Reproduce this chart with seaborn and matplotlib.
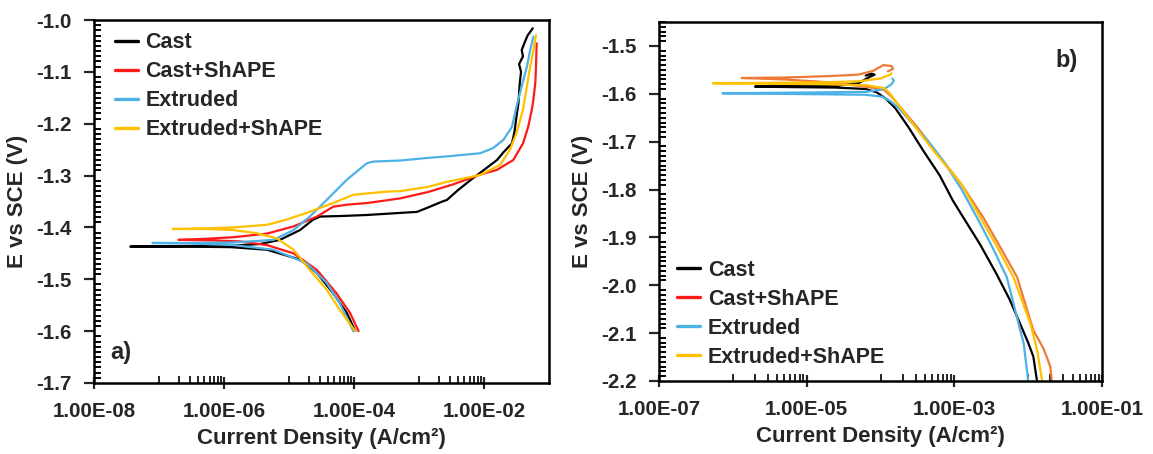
import numpy as np
import pandas as pd
import matplotlib
matplotlib.use("Agg")
import matplotlib.pyplot as plt
import seaborn as sns
from matplotlib.ticker import FixedLocator, FuncFormatter, MultipleLocator
from matplotlib.lines import Line2D

# ---------------- data (log10 of current density, A/cm2 ; potential V vs SCE) -------------
series_names = ["Cast", "Cast+ShAPE", "Extruded", "Extruded+ShAPE"]

# panel a)
a_cast_logi = [-3.98, -4.11, -4.32, -4.57, -4.83, -5.34, -5.90, -6.60, -7.44,
               -6.60, -5.86, -5.45, -5.14, -4.83, -4.63, -4.52, -4.20, -3.80, -3.29, -3.03,
               -2.87, -2.64, -2.57, -2.40, -2.22, -2.01, -1.80, -1.70, -1.57, -1.53, -1.50,
               -1.47, -1.45, -1.43, -1.46, -1.40, -1.42, -1.38, -1.33, -1.25]
a_cast_e = [-1.600, -1.565, -1.527, -1.488, -1.462, -1.443, -1.438, -1.437, -1.437,
            -1.436, -1.435, -1.432, -1.424, -1.405, -1.385, -1.379, -1.378, -1.376, -1.372, -1.370,
            -1.362, -1.350, -1.347, -1.328, -1.310, -1.290, -1.270, -1.255, -1.238, -1.215, -1.186,
            -1.160, -1.122, -1.100, -1.085, -1.070, -1.058, -1.045, -1.030, -1.016]

a_castsh_logi = [-3.93, -4.06, -4.27, -4.57, -4.93, -5.34, -5.75, -6.20, -6.70,
                 -6.30, -5.86, -5.34, -4.93, -4.57, -4.32, -4.10, -3.80, -3.29, -2.87, -2.50,
                 -2.32, -2.06, -1.80, -1.55, -1.40, -1.32, -1.26, -1.24, -1.21, -1.20, -1.19]
a_castsh_e = [-1.600, -1.565, -1.527, -1.482, -1.450, -1.434, -1.427, -1.425, -1.424,
              -1.422, -1.419, -1.412, -1.398, -1.379, -1.360, -1.356, -1.353, -1.344, -1.332, -1.318,
              -1.310, -1.298, -1.289, -1.270, -1.238, -1.206, -1.170, -1.154, -1.120, -1.090, -1.045]

a_ext_logi = [-4.01, -4.22, -4.42, -4.73, -5.24, -5.86, -6.50, -7.10,
              -6.50, -5.86, -5.24, -4.93, -4.68, -4.42, -4.11, -3.80, -3.70, -3.29, -2.87,
              -2.57, -2.06, -1.86, -1.70, -1.57, -1.50, -1.42, -1.34, -1.29, -1.24]
a_ext_e = [-1.600, -1.546, -1.507, -1.469, -1.443, -1.434, -1.431, -1.430,
           -1.430, -1.429, -1.424, -1.405, -1.379, -1.347, -1.308, -1.276, -1.273, -1.271, -1.266,
           -1.263, -1.257, -1.247, -1.231, -1.206, -1.167, -1.128, -1.090, -1.058, -1.032]

a_extsh_logi = [-3.98, -4.22, -4.42, -4.68, -4.93, -5.19, -5.50, -5.86, -6.30, -6.79,
                -6.30, -5.86, -5.34, -5.04, -4.73, -4.32, -4.01, -3.50, -3.29, -2.87,
                -2.57, -2.06, -1.75, -1.60, -1.50, -1.40, -1.34, -1.29, -1.24, -1.20]
a_extsh_e = [-1.600, -1.559, -1.520, -1.482, -1.443, -1.421, -1.411, -1.405, -1.403, -1.403,
             -1.402, -1.400, -1.395, -1.385, -1.372, -1.353, -1.337, -1.331, -1.330, -1.322,
             -1.312, -1.299, -1.279, -1.250, -1.218, -1.173, -1.128, -1.090, -1.058, -1.029]

# panel b)
b_cast_logi = [-1.88, -1.93, -2.00, -2.11, -2.25, -2.43, -2.65, -2.88, -3.02, -3.20, -3.42,
               -3.62, -3.80, -3.93, -4.05, -4.20, -4.60, -5.20, -5.70,
               -5.20, -4.60, -4.30, -4.15, -4.08, -4.12, -4.20]
b_cast_e = [-2.200, -2.149, -2.120, -2.080, -2.030, -1.976, -1.915, -1.858, -1.823, -1.770, -1.719,
            -1.670, -1.630, -1.610, -1.597, -1.590, -1.587, -1.586, -1.585,
            -1.584, -1.583, -1.578, -1.565, -1.560, -1.558, -1.562]

b_castsh_logi = [-1.68, -1.70, -1.75, -1.80, -1.93, -2.15, -2.38, -2.61, -2.90, -3.26, -3.50,
                 -3.72, -3.85, -3.95, -4.20, -4.80, -5.30, -5.88,
                 -5.30, -4.70, -4.30, -4.10, -3.96, -3.85, -3.83, -3.90]
b_castsh_e = [-2.200, -2.170, -2.149, -2.130, -2.094, -1.983, -1.920, -1.858, -1.790, -1.719, -1.670,
              -1.630, -1.606, -1.592, -1.585, -1.575, -1.570, -1.567,
              -1.566, -1.563, -1.560, -1.552, -1.540, -1.542, -1.548, -1.553]

b_ext_logi = [-2.00, -2.06, -2.15, -2.29, -2.47, -2.65, -2.90, -3.15, -3.35, -3.55, -3.75,
              -3.87, -3.98, -4.20, -4.80, -5.50, -6.14,
              -5.50, -4.80, -4.20, -3.95, -3.85, -3.82, -3.84]
b_ext_e = [-2.200, -2.122, -2.068, -1.983, -1.925, -1.871, -1.800, -1.740, -1.700, -1.665, -1.630,
           -1.615, -1.606, -1.602, -1.601, -1.600, -1.599,
           -1.598, -1.597, -1.596, -1.590, -1.580, -1.572, -1.568]

b_extsh_logi = [-1.81, -1.88, -1.97, -2.20, -2.42, -2.65, -2.90, -3.28, -3.55, -3.75, -3.87,
                -3.95, -4.20, -4.80, -5.50, -6.27,
                -5.50, -4.80, -4.30, -4.00, -3.87, -3.85]
b_extsh_e = [-2.200, -2.135, -2.080, -1.983, -1.920, -1.858, -1.790, -1.719, -1.665, -1.625, -1.600,
             -1.588, -1.582, -1.580, -1.579, -1.578,
             -1.577, -1.576, -1.574, -1.568, -1.560, -1.557]

x_tick_labels_a = ["1.00E-08", "1.00E-06", "1.00E-04", "1.00E-02"]
x_tick_labels_b = ["1.00E-07", "1.00E-05", "1.00E-03", "1.00E-01"]


def build(parts):
    frames = []
    for name, logi, e in parts:
        frames.append(pd.DataFrame({"I": np.power(10.0, np.array(logi)),
                                    "E": e, "series": name}))
    return pd.concat(frames, ignore_index=True)


df_a = build([(series_names[0], a_cast_logi, a_cast_e),
              (series_names[1], a_castsh_logi, a_castsh_e),
              (series_names[2], a_ext_logi, a_ext_e),
              (series_names[3], a_extsh_logi, a_extsh_e)])
df_b = build([(series_names[0], b_cast_logi, b_cast_e),
              (series_names[1], b_castsh_logi, b_castsh_e),
              (series_names[2], b_ext_logi, b_ext_e),
              (series_names[3], b_extsh_logi, b_extsh_e)])

# ---------------- style -------------
sns.set_theme(style="ticks")
plt.rcParams["font.family"] = ["Liberation Sans", "DejaVu Sans"]
plt.rcParams["font.weight"] = "bold"
plt.rcParams["axes.labelweight"] = "bold"
plt.rcParams["ytick.minor.visible"] = True
FS_TICK = 14.8
FS_LAB = 16
FS_LEG = 15.5

col_black = "#000000"
col_red = "#FF1A1A"
col_orange = "#EE7A38"
col_blue = "#4DB1E6"
col_yellow = "#FFC000"
pal_a = dict(zip(series_names, [col_black, col_red, col_blue, col_yellow]))
pal_b = dict(zip(series_names, [col_black, col_orange, col_blue, col_yellow]))
legend_cols = [col_black, col_red, col_blue, col_yellow]

fig = plt.figure(figsize=(11.53, 4.54), dpi=100)
ax_a = fig.add_axes([94 / 1153, 1 - 383 / 454, 455 / 1153, 363 / 454])
ax_b = fig.add_axes([659 / 1153, 1 - 381 / 454, 443 / 1153, 359 / 454])

for ax, df, pal in [(ax_a, df_a, pal_a), (ax_b, df_b, pal_b)]:
    sns.lineplot(data=df, x="I", y="E", hue="series", hue_order=series_names,
                 palette=pal, sort=False, estimator=None, linewidth=1.6,
                 legend=False, ax=ax)
    ax.set_xscale("log")


def style_axes(ax, xlim, ylim, majors, labels, minor_decades, yticks, yminor):
    ax.set_xlim(*xlim)
    ax.set_ylim(*ylim)
    ax.set_xticks(majors)
    ax.set_xticklabels(labels)
    ax.xaxis.set_minor_locator(FixedLocator([m * 10.0 ** k for k in minor_decades for m in range(1, 10)]))
    ax.xaxis.set_minor_formatter(FuncFormatter(lambda v, p: ""))
    ax.set_yticks(yticks)
    ax.yaxis.set_major_formatter(FuncFormatter(lambda v, p: f"{v:.1f}"))
    ax.yaxis.set_minor_locator(FixedLocator(yminor))
    ax.yaxis.set_minor_formatter(FuncFormatter(lambda v, p: ""))
    ax.tick_params(axis="x", which="major", direction="inout", length=9, width=1.6,
                   labelsize=FS_TICK, pad=9, bottom=True, top=False)
    ax.tick_params(axis="x", which="minor", direction="in", length=5, width=1.4,
                   bottom=True, top=False)
    ax.tick_params(axis="y", which="major", direction="out", length=7, width=1.6,
                   labelsize=FS_TICK, pad=9, left=True, right=False)
    ax.tick_params(axis="y", which="minor", direction="in", length=5, width=1.4,
                   left=True, right=False, color="black")
    for s in ax.spines.values():
        s.set_visible(True)
        s.set_color("black")
        s.set_linewidth(1.8)
    ax.set_xlabel("Current Density (A/cm²)", fontsize=FS_LAB, fontweight="bold", labelpad=5)
    ax.set_ylabel("E vs SCE (V)", fontsize=FS_LAB, fontweight="bold", labelpad=6)
    for lab in ax.get_xticklabels() + ax.get_yticklabels():
        lab.set_fontweight("bold")


style_axes(ax_a, (1e-8, 1e-1), (-1.7, -1.0), [1e-8, 1e-6, 1e-4, 1e-2], x_tick_labels_a,
           [-7, -5, -3], np.round(np.arange(-1.7, -0.99, 0.1), 1),
           np.round(np.arange(-1.70, -0.995, 0.01), 2))
style_axes(ax_b, (1e-7, 1e-1), (-2.2, -1.45), [1e-7, 1e-5, 1e-3, 1e-1], x_tick_labels_b,
           [-6, -4, -2], np.round(np.arange(-2.2, -1.49, 0.1), 1),
           np.round(np.arange(-2.20, -1.445, 0.01), 2))

handles = [Line2D([0], [0], color=c, lw=2.4) for c in legend_cols]
for ax, anchor in [(ax_a, (0.046, 0.966)), (ax_b, (0.041, 0.337))]:
    ax.legend(handles, series_names, loc="upper left", bbox_to_anchor=anchor,
              frameon=False, handlelength=1.05, handletextpad=0.37, labelspacing=0.37,
              borderpad=0, borderaxespad=0,
              prop={"family": "Liberation Sans", "weight": "bold", "size": FS_LEG})

ax_a.text(0.035, 0.085, "a)", transform=ax_a.transAxes, fontsize=17, fontweight="bold",
          va="center", ha="left")
ax_b.text(0.894, 0.894, "b)", transform=ax_b.transAxes, fontsize=17, fontweight="bold",
          va="center", ha="left")

fig.savefig("out.png", dpi=100)
